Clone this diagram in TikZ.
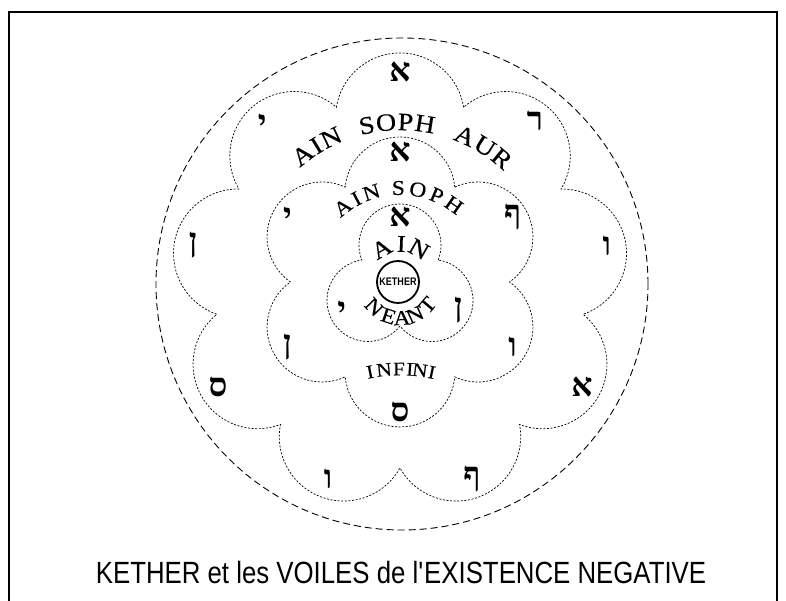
\documentclass[tikz,border=0pt]{standalone}
\usepackage{fontspec}
\usepackage{tikz}
\usetikzlibrary{calc}
\newfontfamily\hebfont[Script=Hebrew]{Liberation Serif}
\newfontfamily\arcfont[FakeStretch=1.12, FakeBold=0.4]{Liberation Serif}
\newfontfamily\capfont[FakeStretch=0.84]{Liberation Sans}
\newfontfamily\kethfont[FakeStretch=0.82]{Liberation Sans}

% scalloped veil: #1 lobes, #2 lobe centre distance, #3 lobe radius, #4 style
\newcommand{\veilpetals}[4]{%
  \pgfmathsetmacro{\petH}{180/#1}
  \pgfmathsetmacro{\petT}{#2*cos(\petH)+sqrt(#3*#3-(#2*sin(\petH))^2)}
  \pgfmathsetmacro{\petB}{atan2(\petT*sin(\petH),\petT*cos(\petH)-#2)}
  \draw[#4] ({90-\petH}:\petT)
    \foreach \i in {1,...,#1} {
      arc[start angle={90+(\i-1)*360/#1-\petB}, end angle={90+(\i-1)*360/#1+\petB}, radius=#3]
    } -- cycle;
}

\begin{document}
\begin{tikzpicture}[x=1pt,y=1pt,
    veil/.style={dash pattern=on 7pt off 4pt, line width=0.9pt},
    petal/.style={dash pattern=on 2pt off 1.6pt, line width=0.7pt},
    heb/.style={font={\hebfont\bfseries\fontsize{33}{33}\selectfont}},
    arcl/.style={inner sep=0pt}]
  \useasboundingbox (-400,-319) rectangle (386,282);
  % frame
  \draw[line width=2pt] (-391,-319) -- (-391,270) -- (377,270) -- (377,-319);
  % the veils
  \draw[veil] (2,-2) circle[radius=246];
  \veilpetals{9}{164.6}{64.4}{petal}
  \veilpetals{6}{90}{55}{petal}
  \veilpetals{3}{37}{41}{petal}
  % kether
  \node[draw, circle, line width=1.8pt, minimum size=42pt, inner sep=0pt,
        font={\kethfont\bfseries\fontsize{11}{11}\selectfont}] (kether) at (-2,0) {KETHER};
  % hebrew letters
  \foreach \h/\a [count=\i] in {א/90,י/131,ן/170,ס/210,ו/250,ף/290,א/330,ו/10,ר/50}
    \node[heb] (aur\i) at (\a:210) {\h};
  \foreach \h/\a [count=\i] in {א/90,י/150,ן/210,ס/270,ו/330,ף/30}
    \node[heb] (soph\i) at (\a:130) {\h};
  \foreach \h/\a [count=\i] in {א/90,י/206,ן/334}
    \node[heb] (ain\i) at (\a:65) {\h};
  % names along the arcs
  \foreach \l/\a [count=\i] in {A/127.5,I/121.5,N/115.5,S/102,O/95,P/88,H/81,A/66,U/58,R/50.5}
    \node[arcl, font={\arcfont\fontsize{25}{25}\selectfont}, rotate=\a-90] (t3-\i) at (\a:160) {\l};
  \foreach \l/\a [count=\i] in {A/127.5,I/117.6,N/107.7,S/91,O/79,P/67,H/55}
    \node[arcl, font={\arcfont\fontsize{21}{21}\selectfont}, rotate=\a-90] (t2-\i) at (\a:94) {\l};
  \foreach \l/\a [count=\i] in {A/119,I/88,N/60}
    \node[arcl, font={\arcfont\fontsize{24}{24}\selectfont}, rotate=\a-90] (t1-\i) at (\a:38) {\l};
  \foreach \l/\a [count=\i] in {N/224,E/251.5,A/273,N/294.5,T/320}
    \node[arcl, font={\arcfont\fontsize{21}{21}\selectfont}, rotate=\a+90] (t0-\i) at (\a:36) {\l};
  \foreach \l/\a [count=\i] in {I/101.3,N/96,F/90.4,I/86.3,N/82.5,I/78}
    \node[arcl, font={\arcfont\fontsize{19}{19}\selectfont}, rotate=\a-90] (inf-\i) at ($(0,-240)+(\a:153)$) {\l};
  % caption
  \node[anchor=base, font={\capfont\fontsize{30.7}{36}\selectfont}] (title) at (1,-301)
    {KETHER et les VOILES de l\textquotesingle EXISTENCE NEGATIVE};
\end{tikzpicture}
\end{document}
